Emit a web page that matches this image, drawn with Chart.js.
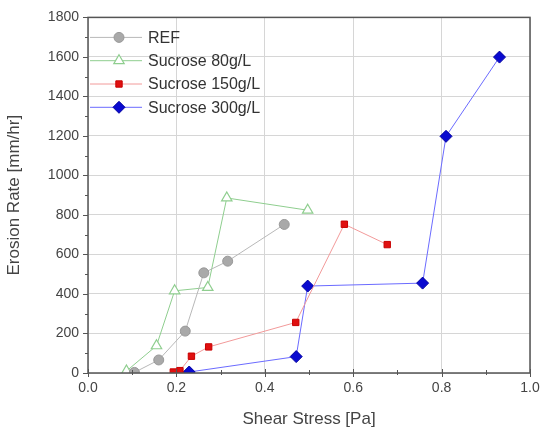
<!DOCTYPE html>
<html lang="en">
<head>
    <meta charset="UTF-8">
    <title>Erosion Rate vs Shear Stress</title>
    <script src="https://cdn.jsdelivr.net/npm/chart.js"></script>
    <style>
        html, body { margin: 0; padding: 0; background: #fff; }
    </style>
</head>
<body>
    <canvas id="erosion-chart" width="547" height="437"></canvas>

    <script>
        // values
        const refX = [0.105, 0.16, 0.22, 0.262, 0.316, 0.444];
        const refY = [3, 66, 212, 507, 566, 752];
        const s80X = [0.087, 0.155, 0.196, 0.271, 0.314, 0.497];
        const s80Y = [10, 138, 416, 433, 886, 824];
        const s150X = [0.193, 0.208, 0.234, 0.273, 0.47, 0.58, 0.677];
        const s150Y = [5, 12, 85, 132, 256, 753, 650];
        const s300X = [0.229, 0.471, 0.497, 0.757, 0.81, 0.931];
        const s300Y = [5, 83, 440, 455, 1198, 1599];

        const xTicks = [0.0, 0.2, 0.4, 0.6, 0.8, 1.0];
        const yTicks = [0, 200, 400, 600, 800, 1000, 1200, 1400, 1600, 1800];

        const toPoints = (xs, ys) => xs.map((x, i) => ({ x: x, y: ys[i] }));
        const FONT = '"Liberation Sans", Arial, sans-serif';

        // frame, minor ticks and the legend are drawn by hand
        const extras = {
            id: 'extras',
            afterDraw(chart) {
                const ctx = chart.ctx;
                const a = chart.chartArea;
                const xs = chart.scales.x, ys = chart.scales.y;
                ctx.save();
                ctx.strokeStyle = '#555';
                ctx.lineWidth = 1.5;
                ctx.strokeRect(a.left, a.top, a.right - a.left, a.bottom - a.top);

                ctx.lineWidth = 1;
                for (let i = 0; i <= 10; i++) {
                    const px = Math.round(xs.getPixelForValue(i / 10)) + 0.5;
                    const major = i % 2 === 0;
                    ctx.beginPath();
                    ctx.moveTo(px, a.bottom - (major ? 4 : 3));
                    ctx.lineTo(px, a.bottom + (major ? 4 : 2));
                    ctx.stroke();
                }
                for (let v = 0; v <= 1800; v += 100) {
                    const py = Math.round(ys.getPixelForValue(v)) + 0.5;
                    const major = v % 200 === 0;
                    ctx.beginPath();
                    ctx.moveTo(a.left - (major ? 5 : 3), py);
                    ctx.lineTo(a.left, py);
                    ctx.stroke();
                }

                // legend
                let y = a.top + 20;
                chart.data.datasets.forEach(ds => {
                    ctx.strokeStyle = ds.borderColor;
                    ctx.lineWidth = 1;
                    ctx.beginPath();
                    ctx.moveTo(a.left + 2, y);
                    ctx.lineTo(a.left + 54, y);
                    ctx.stroke();
                    ctx.fillStyle = ds.pointBackgroundColor;
                    ctx.strokeStyle = ds.pointBorderColor;
                    ctx.lineWidth = ds.pointBorderWidth;
                    Chart.helpers.drawPoint(ctx, {
                        pointStyle: ds.pointStyle,
                        radius: ds.pointRadius,
                        borderWidth: ds.pointBorderWidth,
                        rotation: 0
                    }, a.left + 31, y);
                    ctx.fillStyle = '#333';
                    ctx.font = '16px ' + FONT;
                    ctx.textBaseline = 'middle';
                    ctx.fillText(ds.label, a.left + 60, y + 1);
                    y += 23.3;
                });
                ctx.restore();
            }
        };

        const ctx = document.getElementById('erosion-chart').getContext('2d');
        new Chart(ctx, {
            type: 'scatter',
            data: {
                datasets: [{
                    label: 'REF',
                    data: toPoints(refX, refY),
                    showLine: true,
                    borderColor: '#b8b8b8',
                    borderWidth: 1,
                    pointStyle: 'circle',
                    pointRadius: 5,
                    pointBackgroundColor: '#a9a9a9',
                    pointBorderColor: '#999',
                    pointBorderWidth: 1
                }, {
                    label: 'Sucrose 80g/L',
                    data: toPoints(s80X, s80Y),
                    showLine: true,
                    borderColor: '#8fce8f',
                    borderWidth: 1,
                    pointStyle: 'triangle',
                    pointRadius: 6,
                    pointBackgroundColor: '#ffffff',
                    pointBorderColor: '#8fce8f',
                    pointBorderWidth: 1.2
                }, {
                    label: 'Sucrose 150g/L',
                    data: toPoints(s150X, s150Y),
                    showLine: true,
                    borderColor: '#f29a9a',
                    borderWidth: 1,
                    pointStyle: 'rect',
                    pointRadius: 4.5,
                    pointBackgroundColor: '#e01010',
                    pointBorderColor: '#c80000',
                    pointBorderWidth: 1
                }, {
                    label: 'Sucrose 300g/L',
                    data: toPoints(s300X, s300Y),
                    showLine: true,
                    borderColor: '#6b6bff',
                    borderWidth: 1,
                    pointStyle: 'rectRot',
                    pointRadius: 6,
                    pointBackgroundColor: '#0a0ad0',
                    pointBorderColor: '#0000a0',
                    pointBorderWidth: 1
                }]
            },
            options: {
                responsive: false,
                animation: false,
                layout: { padding: { top: 17, right: 17, left: 0, bottom: 0 } },
                plugins: {
                    legend: { display: false },
                    tooltip: { enabled: false }
                },
                scales: {
                    x: {
                        type: 'linear',
                        min: 0,
                        max: 1.0,
                        afterBuildTicks: s => { s.ticks = xTicks.map(v => ({ value: v })); },
                        afterFit: s => { s.height = 64; },
                        grid: { color: '#d6d6d6', drawTicks: false },
                        border: { display: false },
                        ticks: {
                            padding: 7,
                            autoSkip: false,
                            maxRotation: 0,
                            color: '#444',
                            font: { family: FONT, size: 14 },
                            callback: v => v.toFixed(1)
                        },
                        title: {
                            display: true,
                            text: 'Shear Stress [Pa]',
                            color: '#444',
                            font: { family: FONT, size: 17 },
                            padding: { top: 0, bottom: 7 }
                        }
                    },
                    y: {
                        type: 'linear',
                        min: 0,
                        max: 1800,
                        afterBuildTicks: s => { s.ticks = yTicks.map(v => ({ value: v })); },
                        afterFit: s => { s.width = 88; },
                        grid: { color: '#d6d6d6', drawTicks: false },
                        border: { display: false },
                        ticks: {
                            padding: 9,
                            autoSkip: false,
                            color: '#444',
                            font: { family: FONT, size: 14 },
                            callback: v => String(v)
                        },
                        title: {
                            display: true,
                            text: 'Erosion Rate [mm/hr]',
                            color: '#444',
                            font: { family: FONT, size: 17 },
                            padding: { top: 4, bottom: 4 }
                        }
                    }
                }
            },
            plugins: [extras]
        });
    </script>
</body>
</html>
